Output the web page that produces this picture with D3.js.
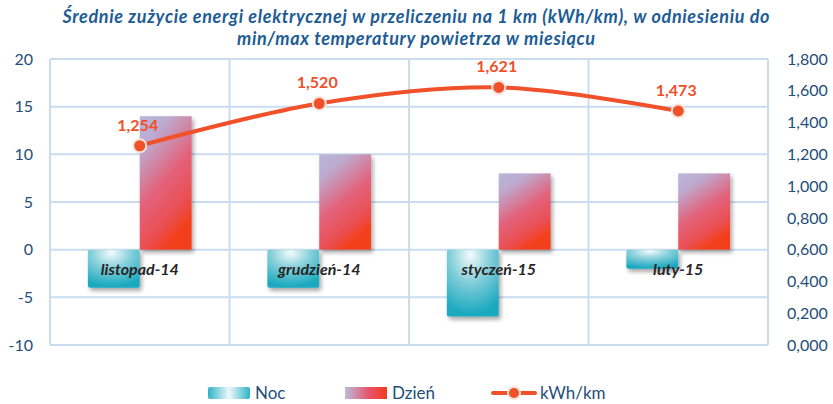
<!DOCTYPE html>
<html>
<head>
<meta charset="utf-8">
<script src="https://cdn.jsdelivr.net/npm/d3@7/dist/d3.min.js"></script>
<style>
  html, body { margin: 0; padding: 0; background: #fff; }
  svg { display: block; }
</style>
</head>
<body>
<svg id="chart" width="833" height="404"></svg>
<script>
// Monthly data
const categories = ["listopad-14", "grudzień-14", "styczeń-15", "luty-15"];
const nightTemp = [-4, -4, -7, -2];          // Noc (min temperature)
const dayTemp = [14, 10, 8, 8];              // Dzień (max temperature)
const kwhPerKm = [1.254, 1.520, 1.621, 1.473];
const leftTicks = [-10, -5, 0, 5, 10, 15, 20];
const rightTicks = [0, 0.2, 0.4, 0.6, 0.8, 1.0, 1.2, 1.4, 1.6, 1.8];
const titleLines = [
  "Średnie zużycie energi elektrycznej w przeliczeniu na 1 km (kWh/km), w odniesieniu do",
  "min/max temperatury powietrza w miesiącu"
];
const legendItems = ["Noc", "Dzień", "kWh/km"];

const svg = d3.select("#chart");
const plot = { left: 50, right: 768, top: 59, bottom: 345 };
const font = "Lato, 'Open Sans', sans-serif";
const axisBlue = "#1f4e79";
const gridColor = "#c9ddef";
const lineColor = "#f0502a";

const x = d3.scaleBand().domain(categories).range([plot.left, plot.right]).padding(0);
const xs = d3.scaleBand().domain(["Noc", "Dzień"]).range([0, x.bandwidth()])
  .paddingInner(0).paddingOuter(0.73);
const y = d3.scaleLinear().domain([-10, 20]).range([plot.bottom, plot.top]);
const yR = d3.scaleLinear().domain([0, 1.8]).range([plot.bottom, plot.top]);

const defs = svg.append("defs");

// Night bar: teal with a soft white glow near the top
const gN = defs.append("radialGradient").attr("id", "gradNoc")
  .attr("cx", "45%").attr("cy", "12%").attr("r", "85%").attr("fx", "45%").attr("fy", "8%");
gN.append("stop").attr("offset", "0%").attr("stop-color", "#f4fbfc");
gN.append("stop").attr("offset", "45%").attr("stop-color", "#85cfda");
gN.append("stop").attr("offset", "100%").attr("stop-color", "#1aa9bf");

// Day bar: lavender top fading through pink into red at the bottom right
const gD = defs.append("linearGradient").attr("id", "gradDzien")
  .attr("x1", "0").attr("y1", "0").attr("x2", "0.45").attr("y2", "1");
gD.append("stop").attr("offset", "0%").attr("stop-color", "#b8b7da");
gD.append("stop").attr("offset", "22%").attr("stop-color", "#bdaacf");
gD.append("stop").attr("offset", "58%").attr("stop-color", "#e3627b");
gD.append("stop").attr("offset", "85%").attr("stop-color", "#ea4f52");
gD.append("stop").attr("offset", "100%").attr("stop-color", "#f2411f");

// Legend swatches
const lN = defs.append("linearGradient").attr("id", "legNoc");
lN.append("stop").attr("offset", "0%").attr("stop-color", "#2db3c6");
lN.append("stop").attr("offset", "50%").attr("stop-color", "#eef9fb");
lN.append("stop").attr("offset", "100%").attr("stop-color", "#2db3c6");
const lD = defs.append("linearGradient").attr("id", "legDzien");
lD.append("stop").attr("offset", "0%").attr("stop-color", "#bdbcdc");
lD.append("stop").attr("offset", "55%").attr("stop-color", "#e6566d");
lD.append("stop").attr("offset", "100%").attr("stop-color", "#f23a1f");

const shadow = defs.append("filter").attr("id", "shadow")
  .attr("x", "-20%").attr("y", "-20%").attr("width", "150%").attr("height", "150%");
shadow.append("feDropShadow").attr("dx", 2).attr("dy", 3).attr("stdDeviation", 2)
  .attr("flood-color", "#000").attr("flood-opacity", 0.35);

// Title
const titleWidths = [707, 358];
svg.append("g").selectAll("text").data(titleLines).join("text")
  .attr("x", 416).attr("y", (d, i) => 23 + i * 22)
  .attr("text-anchor", "middle")
  .attr("font-family", font).attr("font-size", 18)
  .attr("font-weight", "bold").attr("font-style", "italic")
  .attr("textLength", (d, i) => titleWidths[i]).attr("lengthAdjust", "spacing")
  .attr("fill", "#1e5c94").text(d => d);

// Grid
const grid = svg.append("g");
grid.selectAll("line.h").data(leftTicks).join("line")
  .attr("x1", plot.left).attr("x2", plot.right)
  .attr("y1", d => y(d)).attr("y2", d => y(d))
  .attr("stroke", gridColor).attr("stroke-width", 2);
const vx = categories.map(c => x(c)).concat([plot.right]);
grid.selectAll("line.v").data(vx).join("line")
  .attr("x1", d => d).attr("x2", d => d)
  .attr("y1", plot.top).attr("y2", plot.bottom)
  .attr("stroke", gridColor).attr("stroke-width", 2);

// Left axis
const leftAxis = svg.append("g").attr("transform", `translate(${plot.left},0)`)
  .call(d3.axisLeft(y).tickValues(leftTicks).tickFormat(d => String(d)).tickSize(0).tickPadding(17));
leftAxis.select(".domain").remove();
leftAxis.selectAll("text").attr("font-family", font).attr("font-size", 16)
  .attr("fill", axisBlue);

// Right axis
const fmtR = d => d3.format(".3f")(d).replace(".", ",");
const rightAxis = svg.append("g").attr("transform", `translate(${plot.right},0)`)
  .call(d3.axisRight(yR).tickValues(rightTicks).tickFormat(fmtR).tickSize(0).tickPadding(19));
rightAxis.select(".domain").remove();
rightAxis.selectAll("text").attr("font-family", font).attr("font-size", 16)
  .attr("fill", axisBlue);

// Bars
const bars = svg.append("g").attr("filter", "url(#shadow)");
bars.selectAll("rect.noc").data(nightTemp).join("rect")
  .attr("x", (d, i) => x(categories[i]) + xs("Noc"))
  .attr("width", xs.bandwidth())
  .attr("y", d => y(Math.max(0, d)))
  .attr("height", d => Math.abs(y(d) - y(0)))
  .attr("rx", 2)
  .attr("fill", "url(#gradNoc)");
bars.selectAll("rect.dzien").data(dayTemp).join("rect")
  .attr("x", (d, i) => x(categories[i]) + xs("Dzień"))
  .attr("width", xs.bandwidth())
  .attr("y", d => y(Math.max(0, d)))
  .attr("height", d => Math.abs(y(d) - y(0)))
  .attr("fill", "url(#gradDzien)");

// Category labels
svg.append("g").selectAll("text").data(categories).join("text")
  .attr("x", d => x(d) + x.bandwidth() / 2)
  .attr("y", y(0) + 25)
  .attr("text-anchor", "middle")
  .attr("font-family", font).attr("font-size", 16)
  .attr("font-weight", "bold").attr("font-style", "italic")
  .attr("fill", "#262626").text(d => d);

// kWh/km line
const pts = kwhPerKm.map((v, i) => [x(categories[i]) + x.bandwidth() / 2, yR(v)]);
svg.append("path")
  .attr("d", d3.line().curve(d3.curveCatmullRom.alpha(0.5))(pts))
  .attr("fill", "none").attr("stroke", lineColor).attr("stroke-width", 4)
  .attr("stroke-linecap", "round");
svg.append("g").selectAll("circle").data(pts).join("circle")
  .attr("cx", d => d[0]).attr("cy", d => d[1]).attr("r", 6.5)
  .attr("fill", lineColor).attr("stroke", "#f4e2d8").attr("stroke-width", 2);
svg.append("g").selectAll("text").data(kwhPerKm).join("text")
  .attr("x", (d, i) => pts[i][0] - 2)
  .attr("y", (d, i) => pts[i][1] - 15)
  .attr("text-anchor", "middle")
  .attr("font-family", font).attr("font-size", 16).attr("font-weight", "bold")
  .attr("fill", lineColor).text(d => fmtR(d));

// Legend
const leg = svg.append("g");
const legY = 393;
const legX = [208, 345, 493];
leg.append("rect").attr("x", legX[0]).attr("y", legY - 6).attr("width", 42).attr("height", 12)
  .attr("rx", 2).attr("fill", "url(#legNoc)");
leg.append("rect").attr("x", legX[1]).attr("y", legY - 6).attr("width", 42).attr("height", 12)
  .attr("fill", "url(#legDzien)");
leg.append("line").attr("x1", legX[2]).attr("x2", legX[2] + 42)
  .attr("y1", legY).attr("y2", legY)
  .attr("stroke", lineColor).attr("stroke-width", 4).attr("stroke-linecap", "round");
leg.append("circle").attr("cx", legX[2] + 21).attr("cy", legY).attr("r", 6)
  .attr("fill", lineColor).attr("stroke", "#f4e2d8").attr("stroke-width", 2);
leg.selectAll("text").data(legendItems).join("text")
  .attr("x", (d, i) => legX[i] + 47).attr("y", legY + 6)
  .attr("font-family", font).attr("font-size", 17)
  .attr("fill", axisBlue).text(d => d);
</script>
</body>
</html>
